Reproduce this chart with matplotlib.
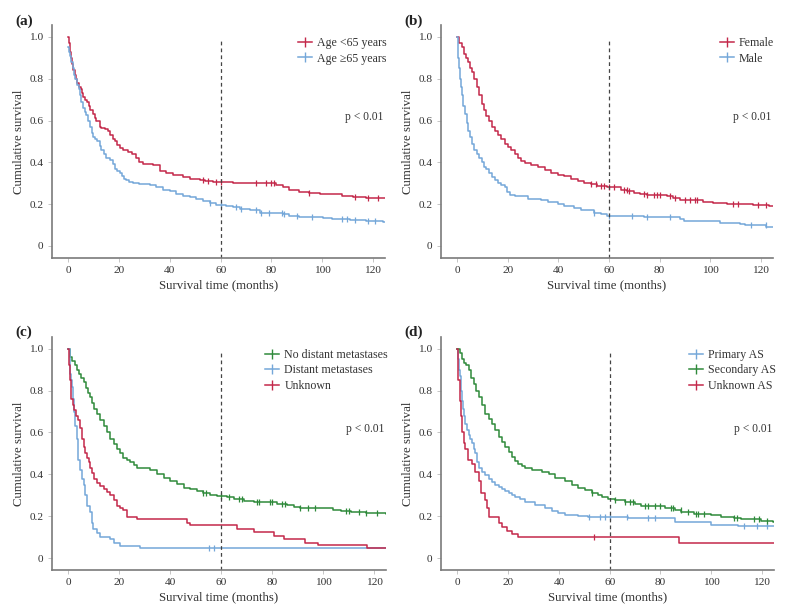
import numpy as np
import matplotlib
matplotlib.use("Agg")
import matplotlib.pyplot as plt
from matplotlib.lines import Line2D

plt.rcParams['font.family'] = ['Liberation Serif', 'DejaVu Serif']

RED = '#c3284a'
BLUE = '#74a7d9'
GREEN = '#2f8a3b'

# (a) age groups: breakpoints (months) and survival from that point on
a_young_t = [0, 0.2, 0.5, 1, 1.5, 2, 2.5, 3, 3.5, 4, 4.8, 5.3, 5.8, 6.5, 7.2, 8, 8.7, 9.7, 10.4, 11, 12.3,
             13, 14.5, 15.6, 16.5, 17.6, 18.5, 19.3, 20.2, 21.5, 23.5, 25, 26.8, 28, 29.4, 33.3,
             36, 38.6, 41.2, 45, 47.8, 51.7, 54, 57, 65, 82, 84.5, 87, 91, 95, 99, 108, 112, 117.4, 126]
a_young_s = [1.0, 0.97, 0.93, 0.90, 0.87, 0.84, 0.82, 0.80, 0.78, 0.76, 0.75, 0.73, 0.713, 0.70, 0.69, 0.67,
             0.65, 0.63, 0.61, 0.60, 0.57, 0.565, 0.56, 0.55, 0.53, 0.514, 0.50, 0.485, 0.47, 0.46, 0.45, 0.44,
             0.42, 0.40, 0.39, 0.385, 0.36, 0.35, 0.34, 0.33, 0.32, 0.315, 0.31, 0.305, 0.30, 0.29, 0.28,
             0.27, 0.26, 0.255, 0.25, 0.24, 0.235, 0.23, 0.228]
a_young_cens = [53, 55, 58, 60, 74, 78, 80, 81, 95, 113, 118, 122]

a_old_t = [0, 0.3, 0.7, 1.2, 1.7, 2.2, 2.7, 3.3, 4, 4.5, 5, 5.8, 6.4, 7.1, 7.8, 8.5, 9.1, 9.7, 10.5, 11.3,
           12.3, 13, 14, 15, 16.5, 17.6, 18.5, 19.3, 20.2, 21, 22, 22.8, 24, 25.5, 28, 32, 34.7, 37.3,
           40, 42.5, 45, 47.8, 50.4, 53, 55.7, 58.3, 62, 65, 67.5, 71.4, 75.4, 84.5, 87, 91, 100.3, 104,
           110.8, 117.4, 124, 126]
a_old_s = [0.95, 0.93, 0.91, 0.88, 0.85, 0.82, 0.80, 0.77, 0.75, 0.72, 0.69, 0.66, 0.64, 0.626, 0.60, 0.57,
           0.54, 0.52, 0.51, 0.50, 0.48, 0.46, 0.44, 0.42, 0.41, 0.39, 0.37, 0.36, 0.35, 0.335, 0.32, 0.315,
           0.305, 0.30, 0.295, 0.29, 0.28, 0.27, 0.265, 0.25, 0.24, 0.235, 0.225, 0.215, 0.205, 0.195, 0.19,
           0.185, 0.175, 0.17, 0.16, 0.155, 0.145, 0.14, 0.135, 0.13, 0.125, 0.12, 0.115, 0.115]
a_old_cens = [56, 60, 66, 68, 74, 76, 79, 84, 85, 90, 96, 108, 110, 113, 118, 121]

# (b) sex
b_fem_t = [0, 0.8, 1.7, 2.5, 3.3, 4.3, 5, 5.6, 6.5, 7.6, 8.5, 9.6, 10.5, 11.5, 12.5, 13.5, 14.8, 16.1,
           17.3, 18.7, 20, 21.4, 22.7, 24, 25.3, 26.6, 29.2, 31.8, 34.5, 37, 39.7,
           42.3, 45, 47.6, 50.2, 52.8, 55.4, 59.3, 64.6, 67.2, 69.8, 72.4, 75, 82.9, 85.5, 88, 97.3, 101,
           106.5, 117, 123.5, 126]
b_fem_s = [1.0, 0.97, 0.95, 0.92, 0.90, 0.88, 0.85, 0.833, 0.80, 0.76, 0.72, 0.68, 0.65, 0.62, 0.60, 0.57,
           0.55, 0.53, 0.51, 0.49, 0.475, 0.459, 0.44, 0.42, 0.405, 0.395, 0.385, 0.38,
           0.365, 0.35, 0.34, 0.335, 0.32, 0.31, 0.30, 0.295, 0.285, 0.28, 0.27, 0.265, 0.255, 0.25, 0.245,
           0.24, 0.23, 0.22, 0.21, 0.205, 0.20, 0.195, 0.193, 0.193]
b_fem_cens = [53, 55, 57, 58, 60, 62, 66, 67, 68, 74, 75, 78, 79, 80, 84, 86, 90, 92, 94, 95, 109, 111,
              119, 122]

b_male_t = [0, 0.2, 0.4, 0.7, 1, 1.3, 1.7, 2.3, 3, 3.6, 4.3, 5, 5.9, 6.7, 7.6, 8.6, 9.6, 10.5, 11.5, 12.5,
            13.5, 14.8, 16.1, 17.4, 18.7, 19.7, 20.7, 22.7, 27.9, 33.1, 35.8,
            39.7, 42.3, 46.2, 48.9, 54, 56.7, 59.3, 73.8, 88.2, 89.5, 103.9, 111.8, 114, 122.2, 126]
b_male_s = [1.0, 0.95, 0.9, 0.85, 0.8, 0.76, 0.72, 0.67, 0.63, 0.59, 0.55, 0.52, 0.49, 0.46, 0.44, 0.42,
            0.40, 0.38, 0.37, 0.35, 0.33, 0.315, 0.30, 0.29, 0.28, 0.26, 0.245, 0.24, 0.225,
            0.22, 0.21, 0.20, 0.19, 0.18, 0.17, 0.16, 0.155, 0.145, 0.14, 0.13, 0.12, 0.11, 0.105, 0.10,
            0.09, 0.09]
b_male_cens = [54, 60, 69, 75, 84, 116, 122]

# (c) metastases
c_nodm_t = [0, 0.7, 1.5, 2.4, 3.3, 4.2, 5, 5.9, 7, 7.7, 8.5, 9.4, 10.2, 11.1, 12.4, 13.8, 15, 16.4, 17.7,
            19, 20.3, 21.6, 23, 24.3, 25.6, 26.9, 32, 34.8, 37.4, 40, 42.6, 45.2,
            47.9, 50.5, 53, 55.7, 58.4, 62.3, 65, 68.9, 72.8, 82, 86, 88.5, 91, 104, 107, 111, 117, 124.6, 126]
c_nodm_s = [1.0, 0.96, 0.94, 0.92, 0.90, 0.88, 0.86, 0.84, 0.81, 0.79, 0.771, 0.74, 0.71, 0.69, 0.66, 0.63,
            0.60, 0.57, 0.545, 0.52, 0.50, 0.48, 0.47, 0.46, 0.445, 0.43, 0.42, 0.40, 0.385,
            0.37, 0.355, 0.335, 0.33, 0.32, 0.31, 0.30, 0.295, 0.29, 0.285, 0.275, 0.27, 0.26, 0.255, 0.245,
            0.24, 0.23, 0.225, 0.22, 0.215, 0.212, 0.212]
c_nodm_cens = [53, 54, 60, 63, 67, 68, 74, 75, 79, 80, 84, 85, 91, 94, 97, 109, 110, 114, 117, 121]

c_dm_t = [0, 0.4, 0.7, 1.0, 1.3, 1.7, 2, 2.6, 3.3, 3.6, 3.9, 4.6, 5.2, 5.9, 6.6, 7.2, 8.5, 9.2, 9.8, 11.1,
          12.5, 16.4, 17.7, 20.3, 28.2, 126]
c_dm_s = [1.0, 0.93, 0.88, 0.85, 0.815, 0.76, 0.70, 0.63, 0.57, 0.52, 0.47, 0.42, 0.38, 0.35, 0.30, 0.25,
          0.22, 0.17, 0.14, 0.12, 0.10, 0.09, 0.075, 0.06, 0.05, 0.05]
c_dm_cens = [55, 57]

c_unk_t = [0, 0.2, 0.5, 0.8, 1.0, 1.6, 2.2, 3, 3.9, 4.5, 5.2, 5.9, 6.6, 7.3, 7.9, 8.5, 9.2, 10.2, 11.1,
           12.4, 13.8, 15, 16.4, 17.7, 19, 20.3, 21.6, 22.9, 26.9, 46.6, 47.9,
           66.2, 72.8, 80.7, 84.6, 92.8, 98, 117.4, 126]
c_unk_s = [1.0, 0.92, 0.85, 0.80, 0.76, 0.73, 0.705, 0.68, 0.66, 0.62, 0.57, 0.53, 0.50, 0.48, 0.46, 0.43,
           0.405, 0.38, 0.36, 0.345, 0.33, 0.315, 0.30, 0.28, 0.25, 0.24, 0.23, 0.195,
           0.185, 0.17, 0.16, 0.14, 0.125, 0.105, 0.09, 0.075, 0.063, 0.05, 0.05]
c_unk_cens = []

# (d) AS type
d_prim_t = [0, 0.2, 0.5, 0.8, 1.2, 1.5, 1.8, 2.1, 2.5, 3.1, 3.7, 4.4, 5.1, 5.8, 6.4, 7.1, 7.8, 8.4, 9.7,
            11, 12.3, 13.6, 14.9, 16.2, 17.5, 18.8, 20.2, 21.5, 22.8, 24.7, 26.7, 30.6,
            34.5, 37.2, 39.8, 42.4, 47.6, 51.6, 67.3, 85.6, 100, 110.4, 126]
d_prim_s = [1.0, 0.95, 0.90, 0.87, 0.85, 0.80, 0.75, 0.71, 0.68, 0.64, 0.61, 0.59, 0.57, 0.55, 0.52, 0.50,
            0.46, 0.43, 0.41, 0.395, 0.38, 0.365, 0.35, 0.34, 0.33, 0.32, 0.31, 0.30, 0.29, 0.285,
            0.27, 0.255, 0.24, 0.225, 0.215, 0.205, 0.20, 0.195, 0.19, 0.175, 0.16, 0.153, 0.153]
d_prim_cens = [52, 56, 58, 60, 67, 75, 78, 113, 118, 122]

d_sec_t = [0, 1, 1.8, 2.7, 3.5, 4.4, 5.4, 6.4, 7.4, 8.4, 9.7, 11, 12.3, 13.6, 14.9, 16.2, 17.5, 18.8, 20.2,
           21.5, 22.8, 24, 25.4, 26.7, 29.3, 33.2, 35.9, 38.5, 42.4,
           45, 47.6, 50.2, 52.9, 55.5, 56.8, 59.4, 62, 66, 69.9, 72.5, 81.7, 85.6, 88.2, 93.4, 99.9, 103.9,
           109, 111.8, 119.6, 124.4, 126]
d_sec_s = [1.0, 0.98, 0.95, 0.93, 0.92, 0.90, 0.86, 0.83, 0.80, 0.77, 0.73, 0.69, 0.665, 0.64, 0.61, 0.58,
           0.555, 0.53, 0.505, 0.484, 0.465, 0.45, 0.44, 0.43, 0.42, 0.41, 0.40,
           0.385, 0.37, 0.35, 0.335, 0.325, 0.31, 0.30, 0.29, 0.285, 0.28, 0.27, 0.26, 0.25, 0.24, 0.23, 0.22,
           0.21, 0.205, 0.195, 0.19, 0.185, 0.18, 0.175, 0.175]
d_sec_cens = [53, 62, 66, 68, 69, 74, 75, 78, 80, 84, 85, 88, 91, 94, 95, 97, 109, 110, 117, 119, 122]

d_unk_t = [0, 0.3, 0.8, 1.2, 1.8, 2.5, 3.1, 4.2, 5.8, 7.1, 8.4, 9.4, 11, 11.6, 12.3, 16.2, 17.5, 19.5,
           21.5, 23.8, 87.3, 126]
d_unk_s = [1.0, 0.85, 0.75, 0.68, 0.60, 0.55, 0.52, 0.47, 0.45, 0.41, 0.37, 0.31, 0.28, 0.24, 0.195, 0.17,
           0.15, 0.13, 0.115, 0.10, 0.075, 0.075]
d_unk_cens = [54]

panels = [
    ('(a)', [('Age <65 years', a_young_t, a_young_s, a_young_cens, RED),
             ('Age \u226565 years', a_old_t, a_old_s, a_old_cens, BLUE)]),
    ('(b)', [('Female', b_fem_t, b_fem_s, b_fem_cens, RED),
             ('Male', b_male_t, b_male_s, b_male_cens, BLUE)]),
    ('(c)', [('No distant metastases', c_nodm_t, c_nodm_s, c_nodm_cens, GREEN),
             ('Distant metastases', c_dm_t, c_dm_s, c_dm_cens, BLUE),
             ('Unknown', c_unk_t, c_unk_s, c_unk_cens, RED)]),
    ('(d)', [('Primary AS', d_prim_t, d_prim_s, d_prim_cens, BLUE),
             ('Secondary AS', d_sec_t, d_sec_s, d_sec_cens, GREEN),
             ('Unknown AS', d_unk_t, d_unk_s, d_unk_cens, RED)]),
]

# axes rectangles in figure fraction
rects = [(0.0655, 0.581, 0.4225, 0.378), (0.5586, 0.581, 0.4208, 0.378),
         (0.0655, 0.0732, 0.424, 0.379), (0.5586, 0.0732, 0.4225, 0.379)]

fig = plt.figure(figsize=(7.89, 6.15), dpi=100)

for (tag, curves), rect in zip(panels, rects):
    ax = fig.add_axes(rect)
    handles = []
    for label, t, s, cens, col in curves:
        t = np.array(t)
        s = np.array(s)
        ax.step(t, s, where='post', color=col, lw=1.1)
        if len(cens):
            idx = np.searchsorted(t, cens, side='right') - 1
            ax.plot(cens, s[idx], ls='none', marker='|', ms=5, mew=0.9, color=col)
        handles.append(Line2D([0], [0], color=col, lw=1.1, marker='|', ms=7, mew=1.0, label=label))

    ax.vlines(60, -0.056, 0.99, colors='#444444', linestyles=(0, (3, 2.5)), lw=0.9)
    ax.set_xlim(-6.6, 124.8)
    ax.set_ylim(-0.056, 1.056)
    ax.set_xticks([0, 20, 40, 60, 80, 100, 120])
    ax.set_yticks([0, 0.2, 0.4, 0.6, 0.8, 1.0])
    ax.set_yticklabels(['0', '0.2', '0.4', '0.6', '0.8', '1.0'])
    for side in ['top', 'right']:
        ax.spines[side].set_visible(False)
    for side in ['left', 'bottom']:
        ax.spines[side].set_color('#7a7a7a')
        ax.spines[side].set_linewidth(1.2)
    ax.tick_params(length=3, width=0.6, color='#bbbbbb', labelsize=8.2, labelcolor='#333333', pad=3)
    ax.set_xlabel('Survival time (months)', fontsize=9.3, color='#333333', labelpad=3)
    ax.set_ylabel('Cumulative survival', fontsize=9.3, color='#333333', labelpad=3)
    ax.text(0.995, 0.604, 'p < 0.01', transform=ax.transAxes, ha='right', va='center',
            fontsize=8.3, color='#333333')
    ax.legend(handles=handles, loc='upper right', bbox_to_anchor=(1.03, 0.985), frameon=False,
              fontsize=8.6, handlelength=1.2, handletextpad=0.4, labelspacing=0.3, borderpad=0.2,
              labelcolor='#333333')
    ax.text(-0.11, 1.018, tag, transform=ax.transAxes, fontsize=11, fontweight='bold',
            ha='left', va='center', color='#222222')

fig.savefig('out.png', dpi=100)
